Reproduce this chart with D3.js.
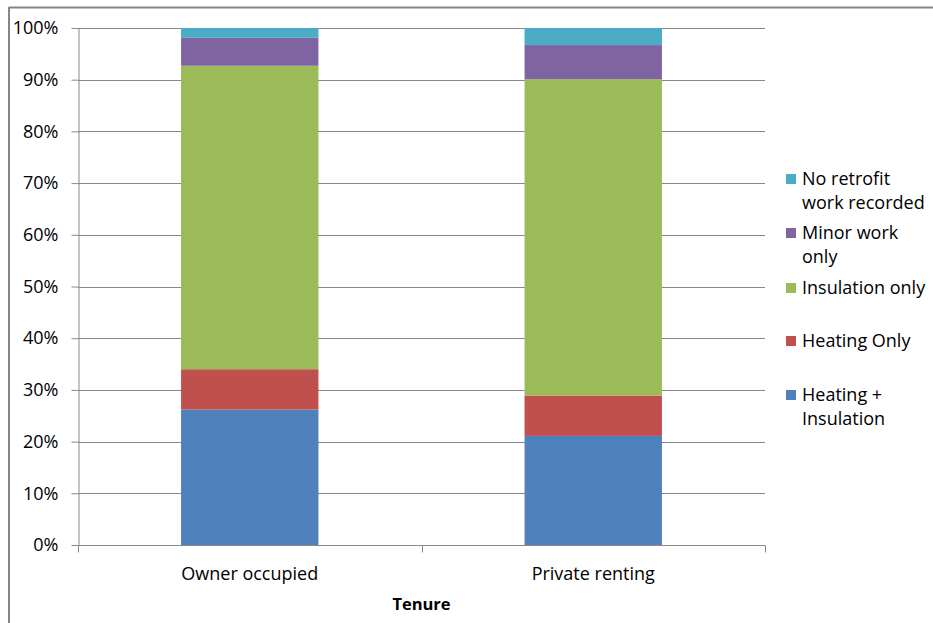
<!DOCTYPE html>
<html>
<head>
<meta charset="utf-8">
<script src="https://cdn.jsdelivr.net/npm/d3@7"></script>
<style>
  html, body { margin: 0; padding: 0; background: #fff; }
  svg { display: block; font-family: "Open Sans", "Liberation Sans", sans-serif; }
</style>
</head>
<body>
<svg id="chart" width="933" height="623"></svg>
<script>
// Tenure categories along the x axis
const categories = ["Owner occupied", "Private renting"];

// Stacked shares (%) per category, from bottom to top
const heatingInsulation = [26.2, 21.1];
const heatingOnly       = [7.8, 7.8];
const insulationOnly    = [58.7, 61.2];
const minorWorkOnly     = [5.4, 6.6];
const noRetrofit        = [1.9, 3.3];

const seriesNames = ["Heating + Insulation", "Heating Only", "Insulation only", "Minor work only", "No retrofit work recorded"];
const seriesValues = [heatingInsulation, heatingOnly, insulationOnly, minorWorkOnly, noRetrofit];
const seriesColors = ["#4F81BD", "#C0504D", "#9BBB59", "#8064A2", "#4BACC6"];

// Legend labels, listed top to bottom, with their line breaks
const legendLines = [
  ["No retrofit", "work recorded"],
  ["Minor work", "only"],
  ["Insulation only"],
  ["Heating Only"],
  ["Heating +", "Insulation"]
];

const yTicks = [0, 10, 20, 30, 40, 50, 60, 70, 80, 90, 100];
const xTitle = "Tenure";

const svg = d3.select("#chart");
const plot = { left: 78, right: 765, top: 28, bottom: 545 };
const labelSize = 18;

// outer frame (top and left edges)
svg.append("line").attr("x1", 9).attr("x2", 933).attr("y1", 7.5).attr("y2", 7.5)
  .attr("stroke", "#868686").attr("stroke-width", 2);
svg.append("line").attr("x1", 9).attr("x2", 9).attr("y1", 7).attr("y2", 623)
  .attr("stroke", "#868686").attr("stroke-width", 2);

const x = d3.scaleBand().domain(categories).range([plot.left, plot.right]).paddingInner(0.6).paddingOuter(0.3);
const y = d3.scaleLinear().domain([0, 100]).range([plot.bottom, plot.top]);

// horizontal gridlines
svg.append("g").selectAll("line").data(yTicks.filter(t => t > 0)).join("line")
  .attr("x1", plot.left).attr("x2", plot.right)
  .attr("y1", d => Math.round(y(d)) + 0.5).attr("y2", d => Math.round(y(d)) + 0.5)
  .attr("stroke", "#888").attr("stroke-width", 1);

// stacked bars
const rows = categories.map((c, i) => {
  const r = { cat: c };
  seriesNames.forEach((s, k) => r[s] = seriesValues[k][i]);
  return r;
});
const stack = d3.stack().keys(seriesNames)(rows);
svg.append("g").selectAll("g").data(stack).join("g")
  .attr("fill", (d, k) => seriesColors[k])
  .selectAll("rect").data(d => d).join("rect")
  .attr("x", d => x(d.data.cat))
  .attr("width", x.bandwidth())
  .attr("y", d => y(d[1]))
  .attr("height", d => y(d[0]) - y(d[1]));

// y axis
const yAxis = svg.append("g").attr("transform", `translate(${plot.left + 0.5},0)`)
  .call(d3.axisLeft(y).tickValues(yTicks).tickFormat(d => d + "%").tickSize(7).tickSizeOuter(0));
yAxis.select(".domain").attr("stroke", "#888");
yAxis.selectAll(".tick line").attr("stroke", "#888");
yAxis.selectAll(".tick text").attr("x", -20).attr("font-size", labelSize).attr("fill", "#000")
  .attr("font-family", "'Open Sans', sans-serif");

// x axis with tick marks at category boundaries
const xAxisG = svg.append("g").attr("transform", `translate(0,${plot.bottom + 0.5})`);
xAxisG.append("line").attr("x1", plot.left).attr("x2", plot.right).attr("stroke", "#888");
const bounds = [plot.left, (plot.left + plot.right) / 2, plot.right];
xAxisG.selectAll("line.tk").data(bounds).join("line").attr("class", "tk")
  .attr("x1", d => Math.round(d) + 0.5).attr("x2", d => Math.round(d) + 0.5)
  .attr("y1", 0).attr("y2", 7).attr("stroke", "#888");
xAxisG.selectAll("text").data(categories).join("text")
  .attr("x", d => x(d) + x.bandwidth() / 2)
  .attr("y", 34)
  .attr("text-anchor", "middle").attr("font-size", labelSize).attr("fill", "#000")
  .text(d => d);

// axis title
svg.append("text").attr("x", (plot.left + plot.right) / 2).attr("y", 610)
  .attr("text-anchor", "middle").attr("font-size", 16.5).attr("font-weight", "bold")
  .text(xTitle);

// legend
const legendSwatchY = [179, 233, 288, 341, 395];
const legendColors = seriesColors.slice().reverse();
const lg = svg.append("g");
legendLines.forEach((lines, i) => {
  const cy = legendSwatchY[i];
  lg.append("rect").attr("x", 786).attr("y", cy - 5).attr("width", 10).attr("height", 10)
    .attr("fill", legendColors[i]);
  lines.forEach((t, j) => {
    lg.append("text").attr("x", 802).attr("y", cy + 6 + j * 24)
      .attr("font-size", labelSize).attr("fill", "#000").text(t);
  });
});
</script>
</body>
</html>
